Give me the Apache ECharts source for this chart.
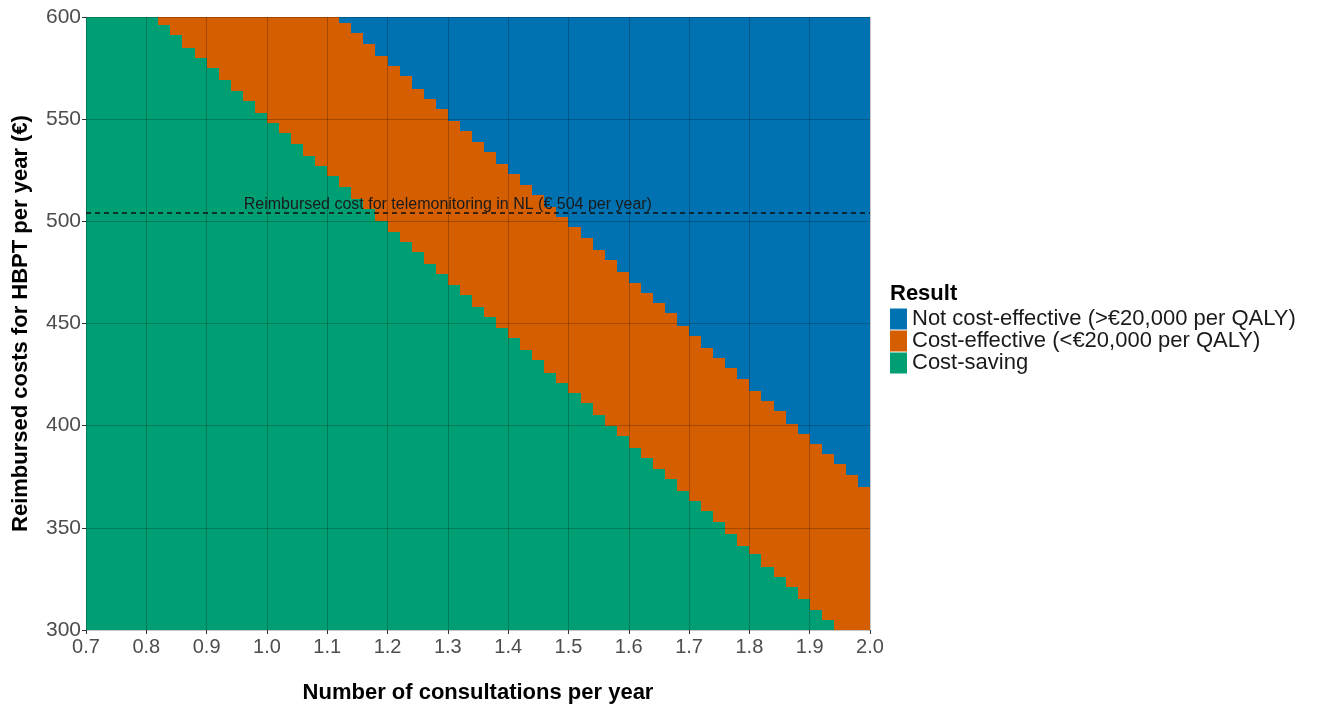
<!DOCTYPE html>
<html>
<head>
<meta charset="utf-8">
<script src="https://cdn.jsdelivr.net/npm/echarts@6/dist/echarts.min.js"></script>
<style>
html,body{margin:0;padding:0;background:#fff;}
#chart{width:1322px;height:709px;}
</style>
</head>
<body>
<div id="chart"></div>
<script>
// ---- data ----
// left edge of each column of consultations per year (columns are 0.02 wide)
const consultations = [0.70,0.72,0.74,0.76,0.78,0.80,0.82,0.84,0.86,0.88,0.90,0.92,0.94,0.96,0.98,
  1.00,1.02,1.04,1.06,1.08,1.10,1.12,1.14,1.16,1.18,1.20,1.22,1.24,1.26,1.28,1.30,1.32,1.34,1.36,1.38,
  1.40,1.42,1.44,1.46,1.48,1.50,1.52,1.54,1.56,1.58,1.60,1.62,1.64,1.66,1.68,1.70,1.72,1.74,1.76,1.78,
  1.80,1.82,1.84,1.86,1.88,1.90,1.92,1.94,1.96,1.98];
const columnWidth = 0.02;
// highest reimbursed cost still "Cost-saving" in each column
const costSavingTop = [600,600,600,600,600,600,596,591,585,580,575,569,564,559,553,
  548,543,538,532,527,522,517,511,506,500,495,490,485,479,474,469,464,458,453,448,
  443,437,432,426,421,416,411,405,400,395,389,384,379,374,368,363,358,353,347,341,
  337,331,326,321,315,310,305,300,300,300];
// highest reimbursed cost still "Cost-effective" in each column
const costEffectiveTop = [600,600,600,600,600,600,600,600,600,600,600,600,600,600,600,
  600,600,600,600,600,600,597,592,587,581,576,571,565,560,555,549,544,539,534,528,
  523,518,513,507,502,497,492,486,481,475,470,465,460,455,449,444,438,433,428,423,
  417,412,407,401,396,391,386,381,376,370];
const yMin = 300, yMax = 600;
const resultNames = ['Not cost-effective (>€20,000 per QALY)', 'Cost-effective (<€20,000 per QALY)', 'Cost-saving'];
const resultColors = ['#0072B2', '#D55E00', '#009E73'];
const reimbursedNL = 504;
const reimbursedLabel = 'Reimbursed cost for telemonitoring in NL (€ 504 per year)';
const reimbursedLabelX = 1.30;

// ---- build band data ----
const greenData = consultations.map((x, i) => [x, yMin, costSavingTop[i]]);
const orangeData = consultations.map((x, i) => [x, costSavingTop[i], costEffectiveTop[i]]);
const blueData = consultations.map((x, i) => [x, costEffectiveTop[i], yMax]);

function renderBand(params, api) {
  const x0 = api.value(0), lo = api.value(1), hi = api.value(2);
  if (hi <= lo) return null;
  const p0 = api.coord([x0, lo]);
  const p1 = api.coord([x0 + columnWidth, hi]);
  const left = Math.round(p0[0]), right = Math.round(p1[0]);
  const top = Math.round(p1[1]), bottom = Math.round(p0[1]);
  return {
    type: 'rect',
    shape: { x: left, y: top, width: right - left, height: bottom - top },
    style: { fill: api.visual('color') }
  };
}

const FONT = "'Liberation Sans', Arial, sans-serif";

function renderAnnotation(params, api) {
  const p = api.coord([api.value(0), api.value(1)]);
  return {
    type: 'text', x: p[0], y: p[1] - 1,
    style: { text: reimbursedLabel, fill: '#1a1a1a', fontSize: 16, fontFamily: FONT,
      align: 'center', verticalAlign: 'bottom' }
  };
}

const chart = echarts.init(document.getElementById('chart'));
chart.setOption({
  animation: false,
  backgroundColor: '#ffffff',
  title: {
    text: 'Result', left: 885, top: 278,
    textStyle: { fontFamily: FONT, fontSize: 22, fontWeight: 'bold', color: '#000' }
  },
  legend: {
    data: resultNames, orient: 'vertical', left: 885, top: 303,
    itemWidth: 17, itemHeight: 21, itemGap: 0, icon: 'rect',
    textStyle: { fontFamily: FONT, fontSize: 22, color: '#1a1a1a', lineHeight: 21 },
    selectedMode: false
  },
  grid: { left: 86, top: 17, width: 784, height: 614 },
  xAxis: {
    type: 'value', min: 0.7, max: 2.0, interval: 0.1, z: 5,
    name: 'Number of consultations per year', nameLocation: 'middle', nameGap: 52,
    nameTextStyle: { fontFamily: FONT, fontSize: 22, fontWeight: 'bold', color: '#000' },
    axisLine: { show: false },
    axisTick: { show: true, length: 4, lineStyle: { color: '#333' } },
    axisLabel: { fontFamily: FONT, fontSize: 20, color: '#4d4d4d', margin: 7,
      formatter: v => v.toFixed(1) },
    splitLine: { show: true, lineStyle: { color: 'rgba(0,0,0,0.22)', width: 1 } }
  },
  yAxis: {
    type: 'value', min: yMin, max: yMax, interval: 50, z: 5,
    name: 'Reimbursed costs for HBPT per year (€)', nameLocation: 'middle', nameGap: 54,
    nameTextStyle: { fontFamily: FONT, fontSize: 22, fontWeight: 'bold', color: '#000' },
    axisLine: { show: false },
    axisTick: { show: true, length: 4, lineStyle: { color: '#333' } },
    axisLabel: { fontFamily: FONT, fontSize: 21, color: '#4d4d4d', margin: 5 },
    splitLine: { show: true, lineStyle: { color: 'rgba(0,0,0,0.22)', width: 1 } }
  },
  series: [
    { name: resultNames[0], type: 'custom', renderItem: renderBand, data: blueData,
      itemStyle: { color: resultColors[0] }, encode: { x: 0, y: [1, 2] }, silent: true },
    { name: resultNames[1], type: 'custom', renderItem: renderBand, data: orangeData,
      itemStyle: { color: resultColors[1] }, encode: { x: 0, y: [1, 2] }, silent: true },
    { name: resultNames[2], type: 'custom', renderItem: renderBand, data: greenData,
      itemStyle: { color: resultColors[2] }, encode: { x: 0, y: [1, 2] }, silent: true,
      markLine: {
        silent: true, symbol: 'none', label: { show: false },
        lineStyle: { color: '#111', type: [5, 4], width: 1.5 },
        data: [{ yAxis: reimbursedNL }]
      } },
    { name: 'annotation', type: 'custom', renderItem: renderAnnotation,
      data: [[reimbursedLabelX, reimbursedNL]], encode: { x: 0, y: 1 }, silent: true, z: 10 }
  ]
});
</script>
</body>
</html>
